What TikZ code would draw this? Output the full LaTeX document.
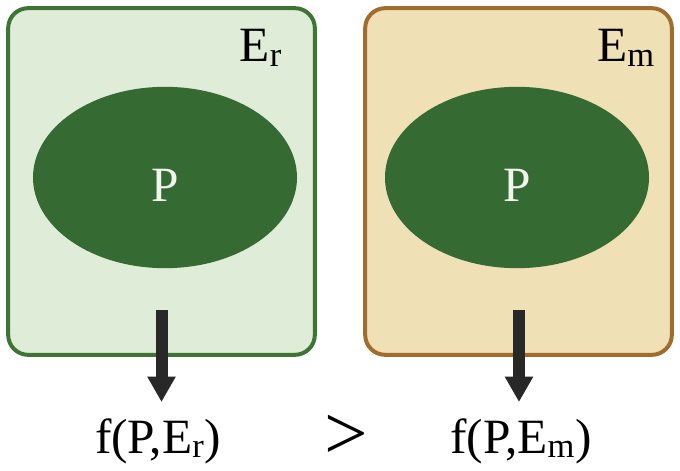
\documentclass[tikz,border=0pt]{standalone}
\usepackage{fontspec}
\setmainfont{Liberation Serif}
\usetikzlibrary{shapes.geometric,arrows.meta}

\definecolor{envrfill}{RGB}{223,237,216}
\definecolor{envrline}{RGB}{62,117,53}
\definecolor{envmfill}{RGB}{239,224,181}
\definecolor{envmline}{RGB}{161,109,47}
\definecolor{plantgreen}{RGB}{53,106,51}
\definecolor{plantlabel}{RGB}{242,245,238}
\definecolor{arrowgray}{RGB}{40,40,40}

\tikzset{
  envbox/.style={rectangle,rounded corners=15pt,line width=3pt,minimum width=230pt,minimum height=260pt,inner sep=0pt},
  plant/.style={ellipse,fill=plantgreen,minimum width=198pt,minimum height=136pt,inner sep=0pt},
  bigtext/.style={font=\fontsize{37}{40}\selectfont,inner sep=0pt},
  effect/.style={line width=9pt,draw=arrowgray,-{Triangle[length=19pt,width=20pt]}}
}

\begin{document}
\begin{tikzpicture}[x=0.75pt,y=0.75pt,yscale=-1]
  \useasboundingbox (0,0) rectangle (680,470);

  %Shape: Rounded Rect [id:envr]
  \node[envbox,fill=envrfill,draw=envrline] (envr) at (161.5,181.5) {};
  %Shape: Rounded Rect [id:envm]
  \node[envbox,fill=envmfill,draw=envmline] (envm) at (518.5,181.5) {};

  %Shape: Ellipse [id:plantr]
  \node[plant] (plantr) at (165,177.5) {};
  %Shape: Ellipse [id:plantm]
  \node[plant] (plantm) at (517,177.5) {};

  % Text Node
  \node[bigtext,text=plantlabel,anchor=base] (pr) at (165,201) {P};
  % Text Node
  \node[bigtext,text=plantlabel,anchor=base] (pm) at (517,201) {P};
  % Text Node
  \node[bigtext,anchor=base] (labelr) at (261,62) {E\textsubscript{r}};
  % Text Node
  \node[bigtext,anchor=base] (labelm) at (626,62) {E\textsubscript{m}};

  % Text Node
  \node[bigtext,anchor=base] (fr) at (158,453) {f(P,E\textsubscript{r})};
  % Text Node
  \node[inner sep=0pt,font=\fontsize{58}{60}\selectfont,text depth=0pt,text height=30pt,anchor=base] (gt) at (346,459) {>};
  % Text Node
  \node[bigtext,anchor=base] (fm) at (521,453) {f(P,E\textsubscript{m})};

  %Straight Lines [id:arrowr]
  \coordinate (startr) at (161.5,310);
  \coordinate (endr) at (161.5,402);
  \draw[effect] (startr) -- (endr);
  %Straight Lines [id:arrowm]
  \coordinate (startm) at (519,310);
  \coordinate (endm) at (519,402);
  \draw[effect] (startm) -- (endm);
\end{tikzpicture}
\end{document}
